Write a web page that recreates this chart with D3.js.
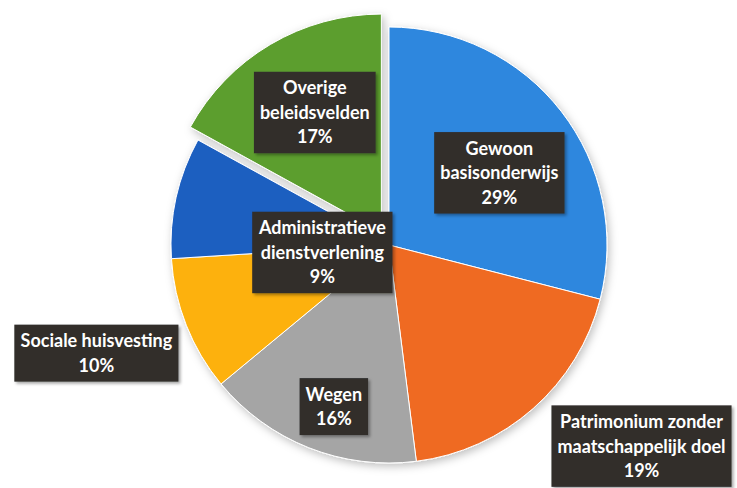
<!DOCTYPE html>
<html>
<head>
    <meta charset="utf-8">
    <script src="https://d3js.org/d3.v7.min.js"></script>
    <style>
        body { margin: 0; background: #ffffff; }
        svg { display: block; }
    </style>
</head>
<body>
    <svg id="pie" width="737" height="488"></svg>

    <script>
        // Data (clockwise from 12 o'clock)
        const categories = [
            ["Gewoon", "basisonderwijs"],
            ["Patrimonium zonder", "maatschappelijk doel"],
            ["Wegen"],
            ["Sociale huisvesting"],
            ["Administratieve", "dienstverlening"],
            ["Overige", "beleidsvelden"]
        ];
        const shares = [29, 19, 16, 10, 9, 17];
        const colors = ["#2f87de", "#ef6a22", "#a5a5a5", "#fdb10f", "#1f5fc0", "#5c9e2e"];
        const exploded = [false, false, false, false, false, true];

        // label nudges from the inner centroid (hand placed, like the original)
        const labelShift = [[7, 8], [166, 103], [-7, 40], [-171, 60], [61, 36], [0, -7]];

        const svg = d3.select("svg"),
            width = +svg.attr("width"),
            height = +svg.attr("height");

        const cx = 389, cy = 245, radius = 218;
        const explodeDist = 15;
        const lineH = 24.5;

        const defs = svg.append("defs");
        defs.append("filter").attr("id", "pieShadow")
            .attr("x", "-20%").attr("y", "-20%").attr("width", "140%").attr("height", "140%")
            .append("feDropShadow")
            .attr("dx", 2).attr("dy", 3).attr("stdDeviation", 4)
            .attr("flood-color", "#000").attr("flood-opacity", 0.25);
        defs.append("filter").attr("id", "boxShadow")
            .attr("x", "-20%").attr("y", "-20%").attr("width", "140%").attr("height", "140%")
            .append("feDropShadow")
            .attr("dx", 2).attr("dy", 2).attr("stdDeviation", 1.5)
            .attr("flood-color", "#000").attr("flood-opacity", 0.35);

        const pie = d3.pie().sort(null).value(d => d)(shares);
        const arc = d3.arc().innerRadius(0).outerRadius(radius);
        const labelArc = d3.arc().innerRadius(radius * 0.6).outerRadius(radius * 0.6);

        function offset(d, i) {
            if (!exploded[i]) return [0, 0];
            const mid = (d.startAngle + d.endAngle) / 2;
            return [Math.sin(mid) * explodeDist, -Math.cos(mid) * explodeDist];
        }

        const g = svg.append("g").attr("transform", `translate(${cx},${cy})`);

        // slices
        g.append("g")
            .attr("filter", "url(#pieShadow)")
            .selectAll("path")
            .data(pie)
            .join("path")
            .attr("d", arc)
            .attr("transform", (d, i) => `translate(${offset(d, i)})`)
            .attr("fill", (d, i) => colors[i])
            .attr("stroke", "#ffffff")
            .attr("stroke-width", 1);

        // labels
        const labels = g.append("g")
            .selectAll("g")
            .data(pie)
            .join("g")
            .attr("transform", (d, i) => {
                const c = labelArc.centroid(d);
                const o = offset(d, i);
                return `translate(${c[0] + o[0] + labelShift[i][0]},${c[1] + o[1] + labelShift[i][1]})`;
            });

        labels.each(function (d, i) {
            const lab = d3.select(this);
            const lines = categories[i].concat([shares[i] + "%"]);
            const box = lab.append("rect")
                .attr("fill", "#302e2c")
                .attr("filter", "url(#boxShadow)");
            const text = lab.append("text")
                .attr("text-anchor", "middle")
                .attr("font-family", "Lato, 'Open Sans', sans-serif")
                .attr("font-weight", "bold")
                .attr("font-size", "18px")
                .attr("fill", "#ffffff");
            const top = -(lines.length - 1) * lineH / 2;
            lines.forEach((t, k) => {
                text.append("tspan")
                    .attr("x", 0)
                    .attr("y", top + k * lineH)
                    .attr("dy", "0.36em")
                    .text(t);
            });
            const w = text.node().getBBox().width + 12;
            const h = lines.length * lineH + 8;
            box.attr("x", -w / 2).attr("y", -h / 2).attr("width", w).attr("height", h);
        });
    </script>
</body>
</html>
